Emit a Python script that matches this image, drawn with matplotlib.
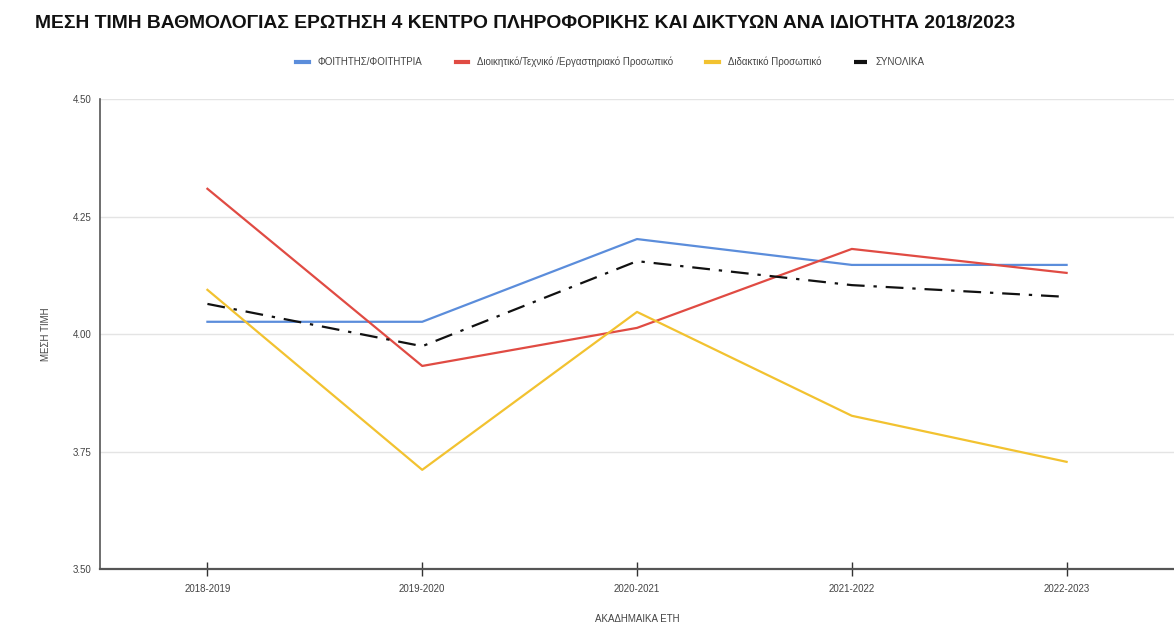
import matplotlib
matplotlib.use("Agg")
import matplotlib.pyplot as plt
from matplotlib.lines import Line2D

plt.rcParams['font.family'] = ['Liberation Sans', 'DejaVu Sans']

years = ["2018-2019", "2019-2020", "2020-2021", "2021-2022", "2022-2023"]
students = [4.026, 4.026, 4.202, 4.147, 4.147]
admin = [4.309, 3.932, 4.013, 4.181, 4.130]
teaching = [4.094, 3.711, 4.047, 3.826, 3.728]
total = [4.064, 3.974, 4.155, 4.104, 4.079]
yticks = [3.50, 3.75, 4.00, 4.25, 4.50]

labels = ["ΦΟΙΤΗΤΗΣ/ΦΟΙΤΗΤΡΙΑ", "Διοικητικό/Τεχνικό /Εργαστηριακό Προσωπικό",
          "Διδακτικό Προσωπικό", "ΣΥΝΟΛΙΚΑ"]
colors = ["#5b8ddb", "#e04b43", "#f2c230", "#111111"]

fig = plt.figure(figsize=(11.74, 6.27), dpi=100)
ax = fig.add_axes([0.0852, 0.0925, 0.9148, 0.7496])

x = range(len(years))
ax.plot(x, students, color=colors[0], lw=1.6, zorder=3)
ax.plot(x, admin, color=colors[1], lw=1.6, zorder=3)
ax.plot(x, teaching, color=colors[2], lw=1.6, zorder=3)
ax.plot(x, total, color=colors[3], lw=1.6, ls=(0, (8, 4, 1.5, 4)), zorder=4)

ax.set_xlim(-0.5, 4.5)
ax.set_ylim(3.5, 4.5)
ax.set_yticks(yticks)
ax.set_yticklabels([f"{v:.2f}" for v in yticks])
ax.set_xticks(list(x))
ax.set_xticklabels(years)
ax.grid(axis='y', color='#e4e4e4', lw=1)
ax.set_axisbelow(True)
for s in ['top', 'right']:
    ax.spines[s].set_visible(False)
ax.spines['left'].set_color('#555555')
ax.spines['bottom'].set_color('#555555')
ax.spines['left'].set_linewidth(1.2)
ax.spines['bottom'].set_linewidth(1.6)
ax.tick_params(axis='x', direction='inout', length=10, width=1, color='#333333',
               labelsize=7, labelcolor='#444444', pad=6)
ax.tick_params(axis='y', length=0, labelsize=7, labelcolor='#444444', pad=6)

ax.set_xlabel("ΑΚΑΔΗΜΑΙΚΑ ΕΤΗ", fontsize=7, color='#444444', labelpad=14)
ax.set_ylabel("ΜΕΣΗ ΤΙΜΗ", fontsize=7, color='#444444', labelpad=16)

fig.text(0.030, 0.963, "ΜΕΣΗ ΤΙΜΗ ΒΑΘΜΟΛΟΓΙΑΣ ΕΡΩΤΗΣΗ 4 ΚΕΝΤΡΟ ΠΛΗΡΟΦΟΡΙΚΗΣ ΚΑΙ ΔΙΚΤΥΩΝ ΑΝΑ ΙΔΙΟΤΗΤΑ 2018/2023",
         fontsize=13.85, fontweight='bold', ha='left', va='center', color='#111111')

handles = [Line2D([], [], color=colors[0], lw=3),
           Line2D([], [], color=colors[1], lw=3),
           Line2D([], [], color=colors[2], lw=3),
           Line2D([], [], color=colors[3], lw=3, ls=(0, (5, 2, 1, 2)))]
fig.legend(handles, labels, loc='center', bbox_to_anchor=(0.52, 0.901), ncol=4,
           frameon=False, fontsize=7, handlelength=1.3, columnspacing=3.4,
           handletextpad=0.9, labelcolor='#444444')

fig.savefig("out.png", dpi=100)
